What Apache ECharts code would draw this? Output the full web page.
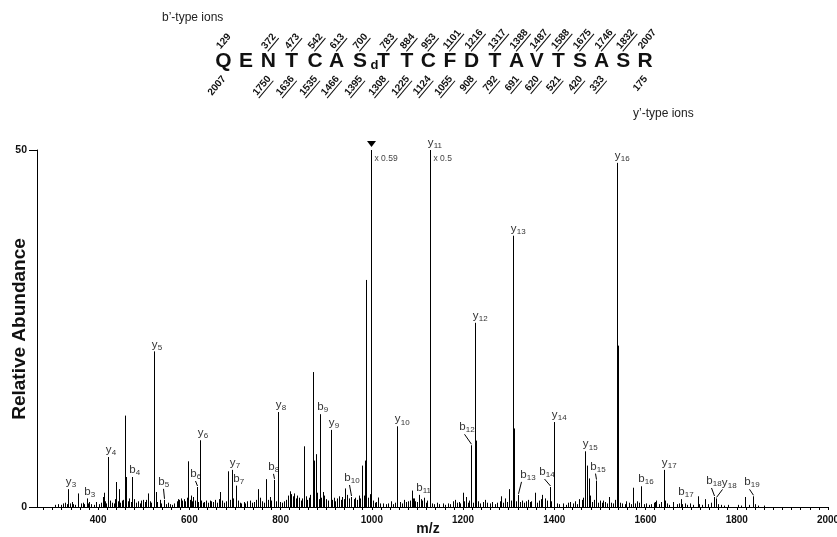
<!DOCTYPE html>
<html><head><meta charset="utf-8">
<script src="https://cdn.jsdelivr.net/npm/echarts@6/dist/echarts.min.js"></script>
<style>html,body{margin:0;padding:0;background:#fff}#c{width:837px;height:537px}</style>
</head><body><div id="c"></div>
<script>
const FONT = '"Liberation Sans", Arial, Helvetica, sans-serif';

// ---------- data ----------
const ionNames = ['y3','b3','y4','b4','y5','b5','b6','y6','y7','b7','b8','y8','b9','y9','b10','y10','b11','y11','b12','y12','y13','b13','b14','y14','y15','b15','y16','b16','y17','b17','b18','y18','b19'];
const ionMz  = [334, 374.6, 422, 475, 522.7, 544, 615.7, 623, 692.4, 701.8, 785, 794.5, 886, 910, 955.4, 1056, 1103.5, 1127, 1218.4, 1227, 1309.6, 1320.5, 1390, 1398.8, 1468, 1491.8, 1538.4, 1591, 1640, 1677, 1751, 1755, 1835.6];
const ionInt = [2.5, 1.2, 7.0, 4.2, 21.8, 1.0, 2.8, 9.35, 5.2, 3.0, 3.8, 13.3, 13.0, 10.8, 1.4, 11.3, 1.7, 50, 8.65, 25.8, 38.0, 1.7, 2.8, 11.9, 7.8, 3.7, 48.2, 2.9, 5.2, 1.1, 1.4, 1.2, 1.5];

// unlabeled major peaks
const peakMz  = [356, 412.5, 440, 446, 458.5, 462, 499, 510, 526, 535, 598, 603, 645, 668, 685, 732, 751, 768, 776, 820, 851, 870, 873, 877, 893, 941, 979, 985, 988, 998, 1013, 1087, 1093, 1128, 1199, 1229, 1301, 1311, 1357, 1373, 1400, 1472, 1475, 1520, 1540, 1573, 1624, 1660, 1714, 1731, 1819];
const peakInt = [1.9, 2.0, 3.5, 2.5, 12.8, 4.2, 1.0, 1.9, 2.1, 1.0, 6.4, 1.6, 0.9, 2.1, 5.0, 0.9, 2.5, 3.9, 1.4, 2.2, 8.5, 18.9, 6.5, 7.4, 2.1, 2.6, 5.8, 6.5, 31.8, 50, 1.3, 2.3, 1.2, 28.2, 2.0, 9.3, 2.5, 11.0, 2.0, 1.7, 5.8, 5.8, 4.0, 1.4, 22.6, 2.7, 0.9, 0.7, 1.5, 1.1, 1.4];

// small baseline peaks
const noiseMz  = [305,312,318,322,327,331,338,342,346,350,362,366,369,378,381,385,390,396,402,407,410,
  415,418,426,430,434,437,443,449,452,455,465,468,471,479,483,487,491,494,502,505,513,517,530,538,549,553,557,562,
  566,572,575,578,581,584,588,591,594,601,606,609,612,619,626,629,633,637,641,648,652,656,660,664,672,676,680,689,696,706,710,714,
  719,723,727,738,742,746,755,759,763,772,780,789,798,803,807,812,816,823,827,830,833,836,840,844,847,855,858,862,865,
  880,884,889,896,900,903,913,916,920,923,928,932,935,938,946,950,961,964,968,971,975,982,992,995,1003,1006,1010,1014,1018,1024,
  1031,1036,1041,1046,1050,1062,1066,1071,1075,1079,1083,1091,1095,1098,1107,1110,1114,1118,1121,1132,1137,1142,1148,1155,1160,1166,1171,1178,1182,1186,1190,1194,1203,1207,1211,1214,
  1222,1233,1238,1243,1248,1253,1259,1264,1269,1275,1280,1284,1288,1293,1297,1305,1315,1325,1330,1334,1338,1342,1346,1350,1362,1366,1370,1379,1383,1393,
  1405,1411,1418,1425,1431,1435,1440,1445,1450,1454,1460,1464,1478,1482,1486,1495,1500,1504,1507,1512,1516,1524,1529,1533,1543,1549,1554,1558,1564,1568,
  1577,1582,1586,1596,1601,1607,1612,1618,1621,1629,1634,1643,1647,1652,1668,1673,1681,1686,1690,1697,1704,1718,1724,1737,1743,1758,1765,1772,1781,1803,1810,1826,1840,1846,1860];
const noiseInt = [0.3,0.4,0.3,0.5,0.6,0.4,0.5,0.7,0.4,0.3,0.5,0.6,0.4,0.5,0.7,0.4,0.3,0.7,0.4,0.6,1.4,
  0.8,0.5,0.9,0.6,0.5,1.1,0.8,0.6,0.9,1.0,0.8,1.2,0.7,1.1,0.6,0.8,0.5,0.9,0.7,1.0,0.8,0.6,0.7,0.5,0.4,0.6,0.4,0.3,
  0.5,0.8,1.1,1.0,1.2,0.9,1.1,0.8,1.3,1.0,0.8,1.4,0.9,0.7,0.9,0.6,0.7,0.9,0.6,0.8,0.7,1.0,0.6,1.1,0.9,0.6,0.8,1.0,1.2,0.9,0.6,0.5,
  0.7,0.5,0.8,0.6,0.7,1.0,1.3,0.8,0.6,1.0,0.9,0.8,0.7,0.6,0.8,1.0,1.6,1.8,1.5,1.9,1.2,1.6,1.3,0.9,1.2,1.5,1.0,1.3,1.7,
  2.0,1.1,1.3,1.6,1.1,0.9,1.0,1.3,0.8,1.2,1.5,1.0,1.4,1.1,1.7,1.2,1.1,1.3,1.0,1.6,1.2,1.6,1.3,1.8,0.9,0.6,0.7,1.3,0.5,0.5,
  0.4,0.5,0.8,0.4,0.6,0.7,0.5,1.0,0.7,0.8,0.9,1.2,0.8,0.7,1.1,0.9,1.3,0.6,0.9,0.5,0.4,0.6,0.4,0.5,0.3,0.5,0.4,0.8,1.0,0.6,0.7,0.5,0.8,1.4,0.6,0.9,
  0.6,0.8,0.5,0.7,1.0,0.6,0.5,0.7,0.4,0.6,0.8,1.5,0.6,1.2,0.7,0.9,0.8,0.7,0.9,0.6,0.8,1.0,0.7,0.8,0.6,0.9,1.1,1.2,0.9,0.8,
  0.5,0.4,0.5,0.3,0.6,0.7,0.5,0.8,0.4,1.1,1.0,1.3,1.6,0.7,1.0,0.6,0.9,0.6,0.9,0.7,0.5,0.6,0.5,1.0,0.6,0.5,0.4,0.8,0.6,0.4,
  0.5,0.8,0.6,0.4,0.5,0.3,0.4,0.6,0.7,0.4,0.7,0.9,0.5,0.3,0.4,0.5,0.4,0.5,0.3,0.5,0.3,0.4,0.3,0.4,0.6,0.4,0.3,0.2,0.3,0.3,0.2,0.3,0.4,0.2,0.2];

const precursorMz = 998, precursorInt = 50;
const scaleNoteMz = [998, 1127];
const scaleNoteInt = [50, 50];
const scaleNoteText = ['x 0.59', 'x 0.5'];

const xTickLabels = [400, 600, 800, 1000, 1200, 1400, 1600, 1800, 2000];
const yTickLabels = [0, 50];

const seqResidues = ['Q','E','N','T','C','A','S','dT','T','C','F','D','T','A','V','T','S','A','S','R'];
const bIonMasses = ['129','','372','473','542','613','700','783','884','953','1101','1216','1317','1388','1487','1588','1675','1746','1832','2007'];
const yIonMasses = ['2007','','1750','1636','1535','1466','1395','1308','1225','1124','1055','908','792','691','620','521','420','333','','175'];
const bUnderlined = [0,0,1,1,1,1,1,1,1,1,1,1,1,1,1,1,1,1,1,0];
const yUnderlined = [0,0,1,1,1,1,1,1,1,1,1,1,1,1,1,1,1,1,0,0];

// ---------- layout (pixels) ----------
const seqX = [223.3,246,268.3,291.7,315,336.7,360,379,407,428.3,450,471.7,495,516.7,536.7,558.3,580,601.7,623.3,645];
const labelPlace = { b5:[-3,-12], b6:[-4,-7], b8:[-3,-7], b10:[-4,-13], b12:[-9,-12], b13:[5,-14], b14:[-8,-9], b15:[-3,-8], b18:[-5,-10], y18:[8,-10], b19:[-6,-8] };
const NUM_ROT = 50 * Math.PI / 180;
const NUM_FS = 10;
const DIGIT_W = 5.56;

const minorTicks = [];
for (let v = 280; v <= 2000; v += 20) minorTicks.push(v);

function peakLine(api, x, v) {
  const p0 = api.coord([x, 0]), p1 = api.coord([x, v]);
  const px = Math.round(p0[0]) + 0.5;
  return { px, y0: p0[1], y1: p1[1], el: { type: 'line', shape: { x1: px, y1: p0[1], x2: px, y2: p1[1] }, style: { stroke: '#000', lineWidth: 1 } } };
}

function renderPeak(params, api) {
  return peakLine(api, api.value(0), api.value(1)).el;
}

function renderIon(params, api) {
  const name = ionNames[params.dataIndex];
  const pk = peakLine(api, api.value(0), api.value(1));
  const pl = labelPlace[name] || [0, -1];
  const lx = pk.px + pl[0], ly = pk.y1 + pl[1];
  const children = [pk.el,
    { type: 'text', x: lx, y: ly, style: { text: name[0], fontSize: 11.5, fontFamily: FONT, fill: '#333', align: 'center', verticalAlign: 'bottom' } },
    { type: 'text', x: lx + 3.2, y: ly + 1, style: { text: name.slice(1), fontSize: 8, fontFamily: FONT, fill: '#333', align: 'left', verticalAlign: 'bottom' } }
  ];
  if (labelPlace[name]) {
    const sx = pl[0] < 0 ? lx + 2 : lx - 2;
    children.push({ type: 'line', shape: { x1: sx, y1: ly + 1, x2: pk.px, y2: pk.y1 - 1 }, style: { stroke: '#000', lineWidth: 1 } });
  }
  return { type: 'group', children };
}

function renderPrecursor(params, api) {
  const c = api.coord([api.value(0), api.value(1)]);
  const px = Math.round(c[0]) + 0.5;
  return { type: 'polygon', shape: { points: [[px - 4.5, c[1] - 9], [px + 4.5, c[1] - 9], [px, c[1] - 3]] }, style: { fill: '#000' } };
}

function renderNote(params, api) {
  const c = api.coord([api.value(0), api.value(1)]);
  const px = Math.round(c[0]) + 0.5;
  return { type: 'text', x: px + 3, y: c[1] + 9, style: { text: scaleNoteText[params.dataIndex], fontSize: 8.5, fontFamily: FONT, fill: '#444', align: 'left', verticalAlign: 'middle' } };
}

// ---------- header graphics ----------
const graphics = [];
graphics.push({ type: 'text', x: 162, y: 18, style: { text: 'b\u2019-type ions', fontSize: 12, fontFamily: FONT, fill: '#222', align: 'left', verticalAlign: 'middle' } });
graphics.push({ type: 'text', x: 633, y: 114, style: { text: 'y\u2019-type ions', fontSize: 12, fontFamily: FONT, fill: '#222', align: 'left', verticalAlign: 'middle' } });

seqResidues.forEach((r, i) => {
  const x = seqX[i];
  if (r === 'dT') {
    graphics.push({ type: 'text', x: x - 4.5, y: 71.7, style: { text: 'd', fontSize: 13, fontWeight: 'bold', fontFamily: FONT, fill: '#111', align: 'center', verticalAlign: 'bottom' } });
    graphics.push({ type: 'text', x: x + 4.5, y: 71.7, style: { text: 'T', fontSize: 21, fontWeight: 'bold', fontFamily: FONT, fill: '#111', align: 'center', verticalAlign: 'bottom' } });
  } else {
    graphics.push({ type: 'text', x: x, y: 71.7, style: { text: r, fontSize: 21, fontWeight: 'bold', fontFamily: FONT, fill: '#111', align: 'center', verticalAlign: 'bottom' } });
  }
});

bIonMasses.forEach((m, i) => {
  if (!m) return;
  const ox = (seqResidues[i] === 'dT' ? seqX[i] + 7 : seqX[i] - 1);
  const ch = [{ type: 'text', x: 0, y: 0, style: { text: m, fontSize: NUM_FS, fontWeight: 'bold', fontFamily: FONT, fill: '#111', align: 'left', verticalAlign: 'bottom' } }];
  if (bUnderlined[i]) ch.push({ type: 'line', shape: { x1: 0, y1: 0.5, x2: m.length * DIGIT_W + 0.5, y2: 0.5 }, style: { stroke: '#111', lineWidth: 1 } });
  graphics.push({ type: 'group', x: ox, y: 51, rotation: NUM_ROT, children: ch });
});
yIonMasses.forEach((m, i) => {
  if (!m) return;
  const ox = (seqResidues[i] === 'dT' ? seqX[i] + 2 : seqX[i] - 3);
  const ch = [{ type: 'text', x: 0, y: 0, style: { text: m, fontSize: NUM_FS, fontWeight: 'bold', fontFamily: FONT, fill: '#111', align: 'right', verticalAlign: 'top' } }];
  if (yUnderlined[i]) ch.push({ type: 'line', shape: { x1: -m.length * DIGIT_W - 0.5, y1: 10.5, x2: 0, y2: 10.5 }, style: { stroke: '#111', lineWidth: 1 } });
  graphics.push({ type: 'group', x: ox, y: 74, rotation: NUM_ROT, children: ch });
});

graphics.push({ type: 'text', x: 20, y: 329, rotation: Math.PI / 2, style: { text: 'Relative Abundance', fontSize: 19, fontWeight: 'bold', fontFamily: FONT, fill: '#111', align: 'center', verticalAlign: 'middle' } });
graphics.push({ type: 'text', x: 428, y: 529, style: { text: 'm/z', fontSize: 14, fontWeight: 'bold', fontFamily: FONT, fill: '#111', align: 'center', verticalAlign: 'middle' } });

// ---------- chart ----------
const chart = echarts.init(document.getElementById('c'), null, { renderer: 'canvas' });
chart.setOption({
  animation: false,
  backgroundColor: '#fff',
  grid: { left: 37, right: 9, top: 150, bottom: 30, containLabel: false, outerBoundsMode: 'none' },
  xAxis: {
    type: 'value', min: 266, max: 2000,
    axisLine: { show: true, lineStyle: { color: '#000', width: 1 } },
    axisTick: { show: true, customValues: minorTicks, length: 3, lineStyle: { color: '#000' } },
    axisLabel: { customValues: xTickLabels, formatter: v => String(v), fontSize: 10, fontWeight: 'bold', color: '#111', fontFamily: FONT, margin: 8 },
    splitLine: { show: false }
  },
  yAxis: {
    type: 'value', min: 0, max: 50, interval: 50,
    axisLine: { show: true, lineStyle: { color: '#000', width: 1 } },
    axisTick: { show: true, length: 8, lineStyle: { color: '#000' } },
    axisLabel: { customValues: yTickLabels, formatter: v => String(v), fontSize: 10.5, fontWeight: 'bold', color: '#111', fontFamily: FONT, margin: 10 },
    splitLine: { show: false }
  },
  graphic: { elements: graphics },
  series: [
    { type: 'custom', name: 'noise', renderItem: renderPeak, data: noiseMz.map((m, i) => [m, noiseInt[i]]), silent: true },
    { type: 'custom', name: 'peaks', renderItem: renderPeak, data: peakMz.map((m, i) => [m, peakInt[i]]), silent: true },
    { type: 'custom', name: 'ions', renderItem: renderIon, data: ionMz.map((m, i) => [m, ionInt[i]]), silent: true },
    { type: 'custom', name: 'precursor', renderItem: renderPrecursor, data: [[precursorMz, precursorInt]], silent: true },
    { type: 'custom', name: 'notes', renderItem: renderNote, data: scaleNoteMz.map((m, i) => [m, scaleNoteInt[i]]), silent: true }
  ]
});
</script></body></html>
